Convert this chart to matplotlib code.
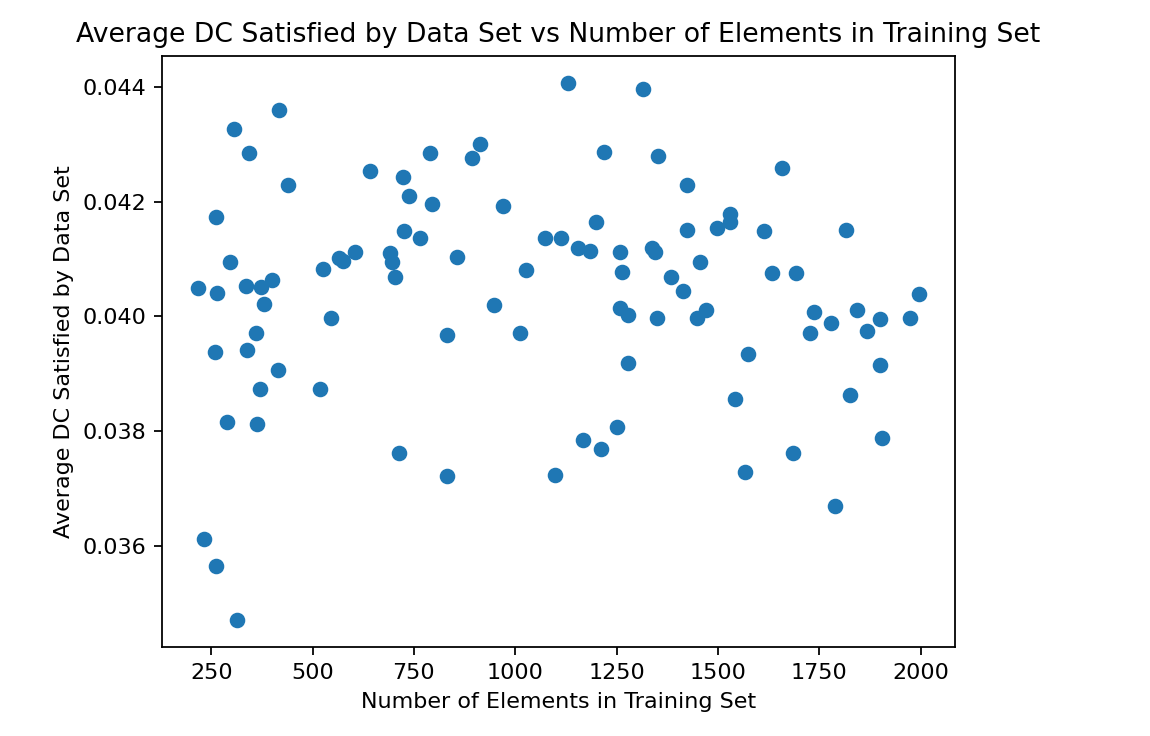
import numpy as np
import matplotlib
matplotlib.use('Agg')
import matplotlib.pyplot as plt

# number of elements in the training set
n_elements = [418, 305, 343, 439, 262, 296, 218, 265, 336, 373,
              399, 381, 525, 545, 566, 574, 605, 642, 722, 737,
              790, 794, 726, 766, 691, 695, 704, 832, 360, 258,
              337, 414, 371, 518, 290, 364, 714, 832, 233, 262,
              314, 1129, 1314, 913, 893, 1218, 1353, 1425, 971, 1199,
              1425, 1074, 1113, 1156, 1184, 1259, 1337, 1346, 857, 1026,
              1263, 1385, 1413, 947, 1258, 1279, 1350, 1011, 1279, 1098,
              1168, 1212, 1251, 1657, 1531, 1531, 1499, 1613, 1815, 1455,
              1633, 1692, 1996, 1471, 1448, 1736, 1842, 1780, 1901, 1973,
              1728, 1867, 1575, 1901, 1543, 1827, 1905, 1685, 1567, 1790]

# average DC satisfied per data set
avg_dc = [0.04360, 0.04326, 0.04284, 0.04229, 0.04173, 0.04095, 0.04050, 0.04041, 0.04053, 0.04052,
          0.04064, 0.04022, 0.04083, 0.03997, 0.04101, 0.04097, 0.04112, 0.04254, 0.04243, 0.04209,
          0.04284, 0.04196, 0.04148, 0.04136, 0.04110, 0.04095, 0.04069, 0.03967, 0.03972, 0.03939,
          0.03941, 0.03907, 0.03874, 0.03874, 0.03816, 0.03813, 0.03763, 0.03723, 0.03612, 0.03565,
          0.03471, 0.04407, 0.04396, 0.04301, 0.04276, 0.04287, 0.04279, 0.04229, 0.04193, 0.04165,
          0.04151, 0.04136, 0.04136, 0.04120, 0.04114, 0.04112, 0.04120, 0.04112, 0.04103, 0.04081,
          0.04078, 0.04069, 0.04045, 0.04020, 0.04014, 0.04003, 0.03997, 0.03972, 0.03919, 0.03724,
          0.03785, 0.03769, 0.03807, 0.04259, 0.04179, 0.04164, 0.04154, 0.04148, 0.04150, 0.04095,
          0.04076, 0.04076, 0.04039, 0.04011, 0.03997, 0.04008, 0.04011, 0.03989, 0.03995, 0.03997,
          0.03972, 0.03975, 0.03935, 0.03916, 0.03857, 0.03864, 0.03788, 0.03763, 0.03729, 0.03670]

fig = plt.figure(figsize=(1150 / 160, 736 / 160), dpi=160)
fig.subplots_adjust(left=0.1411, right=0.8304, bottom=0.1205, top=0.9243)
ax = fig.add_subplot(111)

ax.scatter(n_elements, avg_dc)
ax.set_xticks(np.arange(250, 2001, 250))
ax.set_title('Average DC Satisfied by Data Set vs Number of Elements in Training Set')
ax.set_xlabel('Number of Elements in Training Set')
ax.set_ylabel('Average DC Satisfied by Data Set')

fig.savefig('out.png', dpi=160)
